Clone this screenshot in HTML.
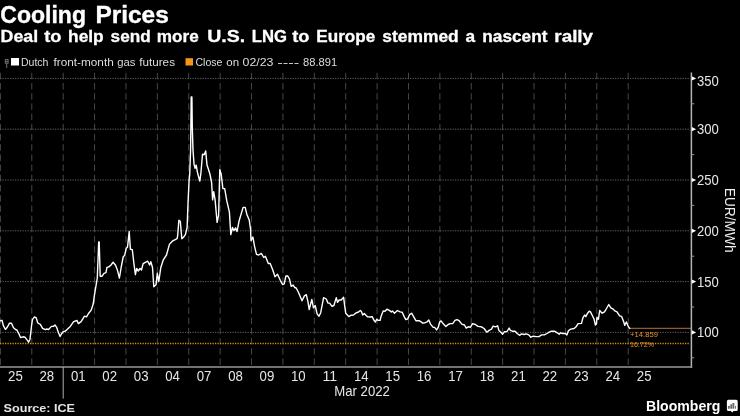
<!DOCTYPE html>
<html><head><meta charset="utf-8"><title>Cooling Prices</title>
<style>
html,body{margin:0;padding:0;background:#000;}
body{width:740px;height:416px;overflow:hidden;font-family:"Liberation Sans",sans-serif;}
svg{display:block;font-family:"Liberation Sans",sans-serif;will-change:transform;}
</style></head><body>
<svg width="740" height="416" viewBox="0 0 740 416">
<rect width="740" height="416" fill="#000"/>
<text x="0.3" y="22.7" font-size="23.3" font-weight="bold" fill="#fff" stroke="#fff" stroke-width="0.35" textLength="85.7" lengthAdjust="spacingAndGlyphs">Cooling</text>
<text x="95.4" y="22.7" font-size="23.3" font-weight="bold" fill="#fff" stroke="#fff" stroke-width="0.35" textLength="73.4" lengthAdjust="spacingAndGlyphs">Prices</text>
<text x="0.6" y="42.3" font-size="16.4" font-weight="bold" fill="#fff" stroke="#fff" stroke-width="0.3" textLength="37.6" lengthAdjust="spacingAndGlyphs">Deal</text>
<text x="44.3" y="42.3" font-size="16.4" font-weight="bold" fill="#fff" stroke="#fff" stroke-width="0.3" textLength="17.2" lengthAdjust="spacingAndGlyphs">to</text>
<text x="68.1" y="42.3" font-size="16.4" font-weight="bold" fill="#fff" stroke="#fff" stroke-width="0.3" textLength="35.6" lengthAdjust="spacingAndGlyphs">help</text>
<text x="110.6" y="42.3" font-size="16.4" font-weight="bold" fill="#fff" stroke="#fff" stroke-width="0.3" textLength="40.1" lengthAdjust="spacingAndGlyphs">send</text>
<text x="156.8" y="42.3" font-size="16.4" font-weight="bold" fill="#fff" stroke="#fff" stroke-width="0.3" textLength="41.9" lengthAdjust="spacingAndGlyphs">more</text>
<text x="207.3" y="42.3" font-size="16.4" font-weight="bold" fill="#fff" stroke="#fff" stroke-width="0.3" textLength="37.9" lengthAdjust="spacingAndGlyphs">U.S.</text>
<text x="251.8" y="42.3" font-size="16.4" font-weight="bold" fill="#fff" stroke="#fff" stroke-width="0.3" textLength="35.2" lengthAdjust="spacingAndGlyphs">LNG</text>
<text x="292.3" y="42.3" font-size="16.4" font-weight="bold" fill="#fff" stroke="#fff" stroke-width="0.3" textLength="17.2" lengthAdjust="spacingAndGlyphs">to</text>
<text x="316.3" y="42.3" font-size="16.4" font-weight="bold" fill="#fff" stroke="#fff" stroke-width="0.3" textLength="58.9" lengthAdjust="spacingAndGlyphs">Europe</text>
<text x="382.3" y="42.3" font-size="16.4" font-weight="bold" fill="#fff" stroke="#fff" stroke-width="0.3" textLength="76.4" lengthAdjust="spacingAndGlyphs">stemmed</text>
<text x="465.6" y="42.3" font-size="16.4" font-weight="bold" fill="#fff" stroke="#fff" stroke-width="0.3" textLength="9.6" lengthAdjust="spacingAndGlyphs">a</text>
<text x="482.3" y="42.3" font-size="16.4" font-weight="bold" fill="#fff" stroke="#fff" stroke-width="0.3" textLength="65.2" lengthAdjust="spacingAndGlyphs">nascent</text>
<text x="554.3" y="42.3" font-size="16.4" font-weight="bold" fill="#fff" stroke="#fff" stroke-width="0.3" textLength="38.8" lengthAdjust="spacingAndGlyphs">rally</text>
<g fill="none" stroke="#707070" stroke-width="1"><rect x="5.3" y="59.6" width="2.8" height="3.6"/><path d="M5.3 61.4H8.1M6.7 63.2V68"/></g>
<rect x="11" y="58" width="8" height="7.5" fill="#fff"/>
<text x="20.9" y="66.2" font-size="11.7" fill="#ddd" stroke="#ddd" stroke-width="0" textLength="27.6" lengthAdjust="spacingAndGlyphs">Dutch</text>
<text x="53.5" y="66.2" font-size="11.7" fill="#ddd" stroke="#ddd" stroke-width="0" textLength="60.2" lengthAdjust="spacingAndGlyphs">front-month</text>
<text x="117.2" y="66.2" font-size="11.7" fill="#ddd" stroke="#ddd" stroke-width="0" textLength="18.2" lengthAdjust="spacingAndGlyphs">gas</text>
<text x="139.2" y="66.2" font-size="11.7" fill="#ddd" stroke="#ddd" stroke-width="0" textLength="35.8" lengthAdjust="spacingAndGlyphs">futures</text>
<rect x="185.5" y="58.2" width="7.5" height="7.3" fill="#f7941d"/>
<text x="195.5" y="66.2" font-size="11.7" fill="#ddd" stroke="#ddd" stroke-width="0" textLength="27.0" lengthAdjust="spacingAndGlyphs">Close</text>
<text x="226.3" y="66.2" font-size="11.7" fill="#ddd" stroke="#ddd" stroke-width="0" textLength="12.8" lengthAdjust="spacingAndGlyphs">on</text>
<text x="242.5" y="66.2" font-size="11.7" fill="#ddd" stroke="#ddd" stroke-width="0" textLength="31.0" lengthAdjust="spacingAndGlyphs">02/23</text>
<text x="277.3" y="66.2" font-size="11.7" fill="#ddd" stroke="#ddd" stroke-width="0" textLength="22.0" lengthAdjust="spacingAndGlyphs">----</text>
<text x="303.0" y="66.2" font-size="11.7" fill="#ddd" stroke="#ddd" stroke-width="0" textLength="34.1" lengthAdjust="spacingAndGlyphs">88.891</text>
<g stroke="#474747" stroke-width="1" stroke-dasharray="6.5 3.7" fill="none">
<path d="M0.40 72.8V366"/>
<path d="M31.79 72.8V366"/>
<path d="M63.18 72.8V366"/>
<path d="M94.57 72.8V366"/>
<path d="M125.96 72.8V366"/>
<path d="M157.35 72.8V366"/>
<path d="M188.74 72.8V366"/>
<path d="M220.13 72.8V366"/>
<path d="M251.52 72.8V366"/>
<path d="M282.91 72.8V366"/>
<path d="M314.30 72.8V366"/>
<path d="M345.69 72.8V366"/>
<path d="M377.08 72.8V366"/>
<path d="M408.47 72.8V366"/>
<path d="M439.86 72.8V366"/>
<path d="M471.25 72.8V366"/>
<path d="M502.64 72.8V366"/>
<path d="M534.03 72.8V366"/>
<path d="M565.42 72.8V366"/>
<path d="M596.81 72.8V366"/>
<path d="M628.20 72.8V366"/>
</g>
<g stroke="#606060" stroke-width="1" stroke-dasharray="1.25 1.25" fill="none">
<path d="M0 78.40H690"/>
<path d="M0 129.20H690"/>
<path d="M0 180.00H690"/>
<path d="M0 230.80H690"/>
<path d="M0 281.60H690"/>
<path d="M0 332.40H690"/>
</g>
<path d="M0 343.5H690" stroke="#d0941c" stroke-width="1.4" stroke-dasharray="1.25 1.25" fill="none"/>
<path d="M629.7 328.3H691" stroke="#b9703a" stroke-width="1" fill="none"/>
<path d="M691.4 72.5V368" stroke="#b4b4b4" stroke-width="1.5" fill="none"/>
<path d="M0 367H692.1" stroke="#989898" stroke-width="1.35" fill="none"/>
<path d="M63.2 367V398.6" stroke="#b0b0b0" stroke-width="1" fill="none"/>
<g fill="#fff">
<path d="M691.8 76.30L696.2 78.40L691.8 80.50Z"/>
<path d="M691.8 127.10L696.2 129.20L691.8 131.30Z"/>
<path d="M691.8 177.90L696.2 180.00L691.8 182.10Z"/>
<path d="M691.8 228.70L696.2 230.80L691.8 232.90Z"/>
<path d="M691.8 279.50L696.2 281.60L691.8 283.70Z"/>
<path d="M691.8 330.30L696.2 332.40L691.8 334.50Z"/>
</g>
<g stroke="#999" stroke-width="1" fill="none">
<path d="M691 103.80H694.2"/>
<path d="M691 154.60H694.2"/>
<path d="M691 205.40H694.2"/>
<path d="M691 256.20H694.2"/>
<path d="M691 307.00H694.2"/>
<path d="M691 357.80H694.2"/>
</g>
<g font-size="14.3" fill="#e6e6e6">
<text x="697.1" y="86.20" textLength="21.8" lengthAdjust="spacingAndGlyphs">350</text>
<text x="697.1" y="134.20" textLength="21.8" lengthAdjust="spacingAndGlyphs">300</text>
<text x="697.1" y="185.00" textLength="21.8" lengthAdjust="spacingAndGlyphs">250</text>
<text x="697.1" y="235.80" textLength="21.8" lengthAdjust="spacingAndGlyphs">200</text>
<text x="697.1" y="286.60" textLength="21.8" lengthAdjust="spacingAndGlyphs">150</text>
<text x="697.1" y="337.40" textLength="21.8" lengthAdjust="spacingAndGlyphs">100</text>
</g>
<g font-size="14.3" fill="#e6e6e6" text-anchor="middle">
<text x="15.40" y="380.5" textLength="14.7" lengthAdjust="spacingAndGlyphs">25</text>
<text x="46.84" y="380.5" textLength="14.7" lengthAdjust="spacingAndGlyphs">28</text>
<text x="78.28" y="380.5" textLength="14.7" lengthAdjust="spacingAndGlyphs">01</text>
<text x="109.72" y="380.5" textLength="14.7" lengthAdjust="spacingAndGlyphs">02</text>
<text x="141.16" y="380.5" textLength="14.7" lengthAdjust="spacingAndGlyphs">03</text>
<text x="172.60" y="380.5" textLength="14.7" lengthAdjust="spacingAndGlyphs">04</text>
<text x="204.04" y="380.5" textLength="14.7" lengthAdjust="spacingAndGlyphs">07</text>
<text x="235.48" y="380.5" textLength="14.7" lengthAdjust="spacingAndGlyphs">08</text>
<text x="266.92" y="380.5" textLength="14.7" lengthAdjust="spacingAndGlyphs">09</text>
<text x="298.36" y="380.5" textLength="14.7" lengthAdjust="spacingAndGlyphs">10</text>
<text x="329.80" y="380.5" textLength="14.7" lengthAdjust="spacingAndGlyphs">11</text>
<text x="361.24" y="380.5" textLength="14.7" lengthAdjust="spacingAndGlyphs">14</text>
<text x="392.68" y="380.5" textLength="14.7" lengthAdjust="spacingAndGlyphs">15</text>
<text x="424.12" y="380.5" textLength="14.7" lengthAdjust="spacingAndGlyphs">16</text>
<text x="455.56" y="380.5" textLength="14.7" lengthAdjust="spacingAndGlyphs">17</text>
<text x="487.00" y="380.5" textLength="14.7" lengthAdjust="spacingAndGlyphs">18</text>
<text x="518.44" y="380.5" textLength="14.7" lengthAdjust="spacingAndGlyphs">21</text>
<text x="549.88" y="380.5" textLength="14.7" lengthAdjust="spacingAndGlyphs">22</text>
<text x="581.32" y="380.5" textLength="14.7" lengthAdjust="spacingAndGlyphs">23</text>
<text x="612.76" y="380.5" textLength="14.7" lengthAdjust="spacingAndGlyphs">24</text>
<text x="644.20" y="380.5" textLength="14.7" lengthAdjust="spacingAndGlyphs">25</text>
</g>
<text x="334.3" y="395.9" font-size="14.3" fill="#e6e6e6" textLength="55.6" lengthAdjust="spacingAndGlyphs">Mar 2022</text>
<text transform="translate(724.8 187.8) rotate(90)" font-size="14.6" fill="#f0f0f0" textLength="64.8" lengthAdjust="spacingAndGlyphs">EUR/MWh</text>
<text x="630" y="337" font-size="7.6" fill="#e8912a" textLength="28" lengthAdjust="spacingAndGlyphs">+14.859</text>
<text x="630" y="347" font-size="7.6" fill="#e8912a" textLength="24" lengthAdjust="spacingAndGlyphs">16.72%</text>
<polyline points="0,320.9 2,320.3 3.4,325.7 5.4,329.5 7.4,327 9.5,323.2 11.5,323.2 13.5,327.7 15.5,329.5 16.9,330 18.9,333.8 20.5,337.6 23,336.8 25,337.2 27,339.9 28.6,342.2 30,339.2 31.4,327 32.4,319.6 34.5,316.9 36.2,317.8 37.8,323 40.3,324.3 42.6,328.4 45.3,329.7 46.6,329 48.6,329.5 51.4,326.4 53.4,326.4 55.1,325 56.8,327.7 58.4,332.4 60.1,336.5 61.5,333.8 63.2,331.8 65.5,331 67.6,329 70.3,326.4 73.6,321.6 77,320.5 78.4,323.6 81.1,321.6 84.5,316.2 86.5,316.9 88.5,313.5 91.2,310.1 93.2,304 94.4,295.4 97.3,278 98.7,241.9 99.2,241.9 100.2,276.2 102.1,276.2 104,273.3 106,272.7 106.9,267.5 108.8,266.9 110.8,265.2 113.1,262.3 115.6,265.2 117.5,270.4 119.4,278 121.3,266.5 123.3,256.5 124.6,255.6 126.2,248.3 127.5,247.3 129.2,231.5 130.4,249.2 132.3,249.6 133.8,262.7 135.4,274.6 136.7,268.5 138.3,271 140,268.5 141.5,270 143.1,263.7 145.4,262.3 147.7,261.2 149.6,265 150.8,261.7 152.5,267.5 153.8,286.7 156,284.8 157.3,273.3 158.8,281.5 160.8,267.5 163.3,259.8 166.5,255 169.4,244.4 172.3,241.2 175.2,239.6 177.1,238.7 177.6,236 178.9,220.3 180.3,221.3 181.8,238.7 183.4,237.3 185.4,234.6 187.1,227.5 188.1,200.9 189.1,180.4 189.7,175 190.6,150 191.2,96.9 191.9,96.9 192.3,128.3 193,150 194,164 195.1,168.3 196.2,165.1 197.3,171.6 198.4,176 199.8,181.1 200.8,174 201.4,167.3 202.5,154.3 204.2,154.7 205.7,151 207,165.1 208.1,168.3 210,174.3 211.6,182.5 212.6,199.9 213.7,191.7 215.1,199.9 217.1,222.4 218.6,215.2 219.8,169.6 221.2,174.3 222.9,188.6 224.7,188.6 226.8,200.9 229.4,212.1 230.8,234.6 232.5,227.5 233.9,230.6 235.6,227.9 237,231.6 239,221.3 243.1,207.4 245.2,207.4 246.8,214.2 249.3,220.3 250.5,229 251,240.6 252.9,237 254.6,246.6 256.5,254.3 258.7,255 261.3,253.4 263.8,257.5 265.4,256.3 268.3,263.5 270.2,263.5 272.6,269.5 275,276.7 277.5,274.3 280.3,280.3 282.7,284.6 284.2,283.9 285.9,276 287.8,276 289.5,279.1 291.2,286.3 293.1,285.1 294.8,287.5 296.2,288 298.4,292.3 302,300.7 304.4,295.9 306.3,294.7 308,301.9 309.2,309.6 311.8,299.5 313.5,307.9 315.2,305.5 317.1,313.9 319,316.3 320.7,312.7 323.6,297.6 326.3,299 327.9,303.1 329.6,303.1 332,306.3 333.9,305.5 336.3,297.6 337.5,302.4 339.2,300 341.2,300 343.6,297.3 344.7,305.8 345.7,313.2 347.4,315 348.8,316.6 350.8,315.3 353.5,315 356.2,312.8 358.2,312.3 360.3,310.5 361.4,311.5 362.7,315 364.3,313.6 367.7,316.9 370.4,317 372.2,316.6 373.8,320 375.4,322 376.8,319.3 378.1,320.4 380.1,320.4 381.2,315.9 383.2,310.9 385,311.2 386.9,309.2 388.9,310.1 391.4,311.9 392.4,310.9 394.5,313.2 397.4,310.5 400.1,311.9 402.2,312.3 404.2,316.6 405.8,319.6 407.6,319 409.6,314.6 411.6,313.2 413.6,316.6 415.9,320.7 419.1,320.7 421.1,321.8 422.7,323.1 425.1,322.7 427.2,321.8 428.8,320 430.5,324.1 433.2,327.4 434.6,327.4 436.6,329.9 438.4,326.8 439.7,322 441.1,320.9 443.5,324.1 445.9,326.4 448.2,324.5 450.3,323.6 452.7,323.6 455,320.4 457,319.6 459.1,320.7 461.8,324.1 464.5,325 466.2,328.1 468.1,326.8 470.5,327.2 472.6,323.6 475.3,324.5 478,326.4 481.4,326.8 484.1,328.5 486.8,332.2 489.5,330.1 491.5,329.1 493.1,326.1 495.5,326.8 497.6,325.8 498.9,330.4 500.9,332.2 502.6,334.2 504.3,331.8 507,331.5 509.1,328.1 510.4,330.4 512.4,331.2 515.1,331.2 517.2,333.5 519.5,335.3 521.6,333.9 523.9,334.5 526.2,333.9 528.8,334.9 530.8,337.2 533.5,336.2 536.2,336.6 538.9,336.6 541.6,334.9 544.3,334.9 547,333.5 549.1,332.2 551.4,331.2 554.5,331.2 557.2,332.8 559.2,334.2 560.5,332.8 562.6,333.5 565.3,333.5 566.9,334.9 568.4,330.8 570.7,329.1 574.1,328.5 576.1,326.8 578.1,323.6 581.5,323.4 582.8,318.2 584.6,315 585.8,316.6 587.6,313.2 589.2,311.2 590.5,311.9 592.3,315.5 594.1,319.3 595.4,325 596.4,324.1 597,317.3 598.4,319.3 599.7,310.5 602.2,313.2 604.5,311.9 606.5,308.5 608.8,304.5 610.8,307.8 613.2,309.2 615.3,311.2 617,311.9 619.6,315.9 621.6,316.4 623.6,321.4 624.7,325.4 626.4,322 628.4,326.8 629.7,328.4" fill="none" stroke="#fff" stroke-width="1.4" stroke-linejoin="round" stroke-linecap="round"/>
<text x="3.6" y="411.6" font-size="10.4" font-weight="bold" fill="#e4e4e4" textLength="71.4" lengthAdjust="spacingAndGlyphs">Source: ICE</text>
<text x="646.0" y="410.6" font-size="15.2" font-weight="bold" fill="#fff" textLength="74.4" lengthAdjust="spacingAndGlyphs">Bloomberg</text>
<g><path d="M728.4 399.8h7.8a1.5 1.5 0 0 1 1.5 1.5v8.1a1.5 1.5 0 0 1 -1.5 1.5h-2.6l-1.4 1.6l-1.4 -1.6h-2.4a1.5 1.5 0 0 1 -1.5 -1.5v-8.1a1.5 1.5 0 0 1 1.5 -1.5z" fill="#fff"/>
<g fill="#6a6a6a"><rect x="727.9" y="405.9" width="1.9" height="2.8"/><rect x="730.3" y="404.3" width="1.7" height="4.4"/><rect x="732.4" y="403" width="1.9" height="5.7"/><rect x="735.1" y="405.9" width="0.9" height="2.8"/></g></g>
</svg>
</body></html>
